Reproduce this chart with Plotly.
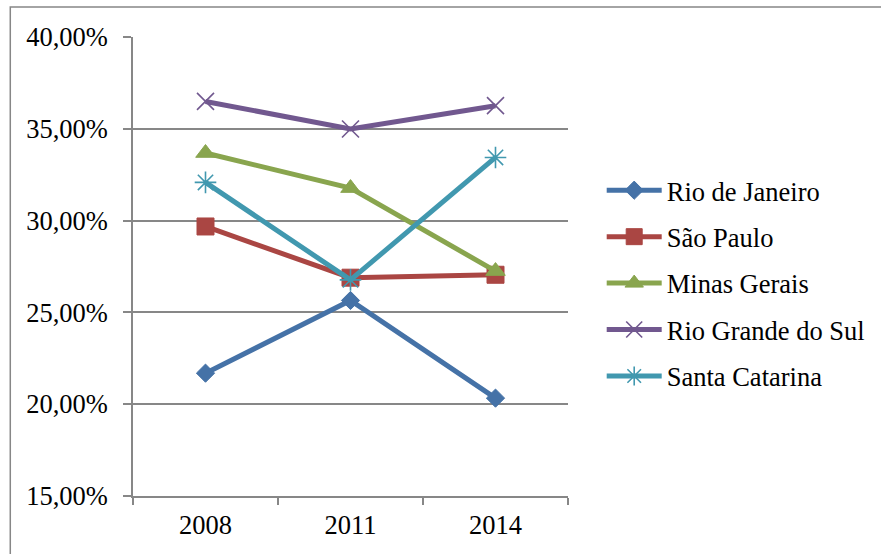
import plotly.graph_objects as go

years = ["2008", "2011", "2014"]
rio_de_janeiro = [0.2169, 0.2565, 0.2033]
sao_paulo = [0.2968, 0.2689, 0.2705]
minas_gerais = [0.3368, 0.3177, 0.2725]
rio_grande_do_sul = [0.3649, 0.3499, 0.3626]
santa_catarina = [0.3208, 0.2677, 0.3344]

series = [
    ("Rio de Janeiro", rio_de_janeiro, "#4572A7", "diamond", 14, 1),
    ("São Paulo", sao_paulo, "#AA4643", "square", 17, 1),
    ("Minas Gerais", minas_gerais, "#89A54E", "triangle-up", 17, 1),
    ("Rio Grande do Sul", rio_grande_do_sul, "#71588F", "x-thin-open", 17, 1.6),
    ("Santa Catarina", santa_catarina, "#4198AF", "asterisk-open", 18, 1.6),
]

fig = go.Figure()
for name, vals, color, symbol, size, lw in series:
    fig.add_trace(go.Scatter(
        x=years, y=vals, name=name, mode="lines+markers", legendgroup=name,
        line=dict(color=color, width=5),
        marker=dict(symbol=symbol, size=size, color=color,
                    line=dict(color=color, width=lw)),
    ))

grid = "#878787"
font = "Times New Roman, Liberation Serif, DejaVu Serif, serif"
fsize = 26.5

fig.update_layout(
    width=881, height=554,
    margin=dict(l=133, r=312, t=37, b=58),
    paper_bgcolor="white", plot_bgcolor="white",
    font=dict(family=font, size=fsize, color="black"),
    showlegend=True,
    legend=dict(x=1.075, y=0.463, xanchor="left", yanchor="middle",
                font=dict(family=font, size=fsize, color="black"),
                itemwidth=55, tracegroupgap=9, bgcolor="rgba(0,0,0,0)"),
    xaxis=dict(type="category", range=[-0.5, 2.5], tickson="boundaries",
               ticks="outside", ticklen=7, tickcolor=grid, tickwidth=1.5,
               showline=True, linecolor=grid, linewidth=1.5,
               showgrid=False, zeroline=False,
               tickfont=dict(family=font, size=fsize), ticklabelstandoff=4),
    yaxis=dict(range=[0.15, 0.40], dtick=0.05, tickformat=".2%",
               ticks="outside", ticklen=8, tickcolor=grid, tickwidth=1.5,
               showline=True, linecolor=grid, linewidth=1.5,
               showgrid=True, gridcolor=grid, gridwidth=1.5,
               zeroline=False, tickfont=dict(family=font, size=fsize),
               ticklabelstandoff=10),
    separators=",.",
)

# outer chart border
fig.add_shape(type="rect", xref="paper", yref="paper",
              x0=(10 - 133) / 436, x1=(895 - 133) / 436,
              y0=(496 - 565) / 459, y1=(496 - 7) / 459,
              line=dict(color=grid, width=1.5), layer="below")

fig.write_html("out.html")
